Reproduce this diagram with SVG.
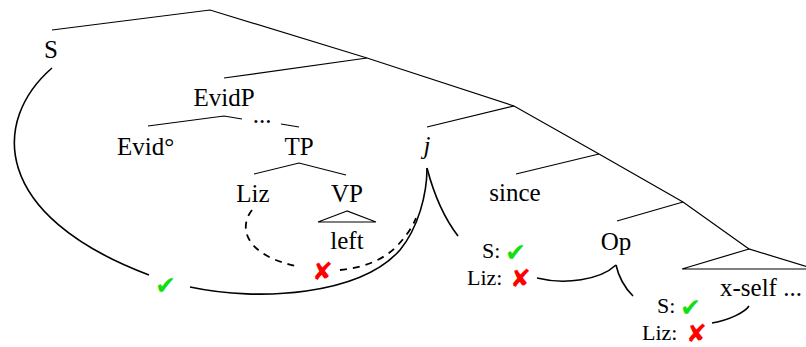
<svg xmlns="http://www.w3.org/2000/svg" width="806" height="347" viewBox="0 0 806 347">
<style>
text{font-family:"Liberation Serif","Times New Roman",serif;font-size:25px;fill:#000}
.m{text-anchor:middle}
.s{font-size:22px}
.t{fill:none;stroke:#000;stroke-width:1.2}
.c{fill:none;stroke:#000;stroke-width:1.6}
.d{fill:none;stroke:#000;stroke-width:1.8;stroke-dasharray:7 6}
.ok{font-family:"DejaVu Sans",sans-serif;fill:#10e010}
.no{font-family:"DejaVu Sans",sans-serif;fill:#ff0000}
</style>
<rect width="806" height="347" fill="#fff"/>
<g id="connectors">
<polyline class="t" points="52,30 210,10 367,58 514,106 599,154 683,202 749,249"/>
<line class="t" x1="367" y1="58" x2="224" y2="78"/>
<line class="t" x1="514" y1="106" x2="427" y2="127"/>
<line class="t" x1="599" y1="154" x2="516" y2="174"/>
<line class="t" x1="683" y1="202" x2="617" y2="221"/>
<polyline class="t" points="148,126 224,116 242,119"/>
<line class="t" x1="281" y1="124" x2="299" y2="127"/>
<polyline class="t" points="254,174 299,163 346,175"/>
<polygon class="t" points="347,211 318,222 376,222"/>
<polygon class="t" points="749,249 682,269 815,269"/>
<path class="c" d="M52,68 C-8,120 -10,215 149,275"/>
<path class="c" d="M190,287 C260,302 360,295 400,250 C418,228 427,195 427,168"/>
<path class="c" d="M427,168 Q438,210 458,236"/>
<path class="d" d="M252,210 C238,228 245,256 300,267"/>
<path class="d" d="M340,270 C360,268 380,262 395,248 C405,238 412,228 416,218"/>
<path class="c" d="M537,278 C565,285 600,280 616,265"/>
<path class="c" d="M616,265 Q620,283 633,296"/>
<path class="c" d="M712,323 C730,320 745,312 749,306"/>
</g>
<g id="n-S"><text class="m" x="51" y="58">S</text></g>
<g id="n-EvidP"><text class="m" x="224" y="106">EvidP</text></g>
<g id="n-Evid"><text x="117" y="155">Evid°</text></g>
<g id="n-dots"><text class="m" x="262" y="123">...</text></g>
<g id="n-TP"><text class="m" x="299" y="155">TP</text></g>
<g id="n-Liz"><text class="m" x="253" y="202">Liz</text></g>
<g id="n-VP"><text class="m" x="347" y="202">VP</text></g>
<g id="n-left"><text class="m" x="347" y="249">left</text></g>
<g id="n-j"><text class="m" x="427" y="154" font-style="italic">j</text></g>
<g id="n-since"><text class="m" x="515" y="201">since</text></g>
<g id="n-Op"><text class="m" x="616" y="250">Op</text></g>
<g id="n-xself"><text x="720" y="296">x-self ...</text></g>
<g id="mark-check1"><text class="ok" x="155" y="294" font-size="29">✔</text></g>
<g id="mark-x1"><text class="no" x="312" y="280" font-size="22">✘</text></g>
<g id="n-ann1">
<text class="s" x="482" y="258">S:</text><text class="ok" x="505" y="261" font-size="26">✔</text>
<text class="s" x="467" y="285">Liz:</text><text class="no" x="510" y="287" font-size="18">✘</text>
</g>
<g id="n-ann2">
<text class="s" x="657" y="313">S:</text><text class="ok" x="680" y="316" font-size="26">✔</text>
<text class="s" x="642" y="340">Liz:</text><text class="no" x="686" y="342" font-size="18">✘</text>
</g>
</svg>
